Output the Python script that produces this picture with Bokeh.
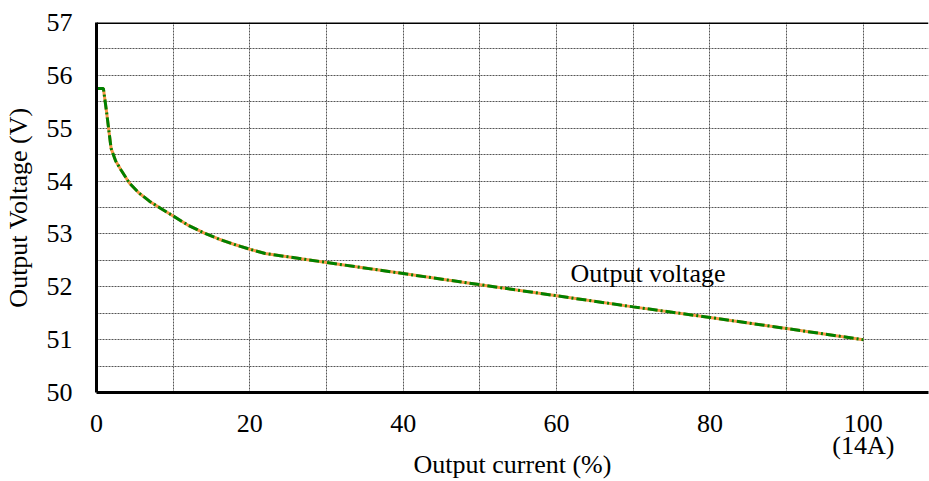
from bokeh.plotting import figure
from bokeh.models import Range1d, FixedTicker, Span, Label, ColumnDataSource
from bokeh.embed import file_html
from bokeh.resources import INLINE

# Data
current_pct = [0, 0.9, 1.3, 1.9, 2.5, 3.2, 4.3, 5.5, 6.9, 8.5, 10, 12, 14, 16, 18, 20, 22,
               30, 40, 50, 60, 70, 80, 90, 100]
voltage = [55.75, 55.75, 55.32, 54.62, 54.38, 54.21, 53.96, 53.78, 53.62, 53.47, 53.34,
           53.16, 53.02, 52.90, 52.80, 52.71, 52.63, 52.46, 52.25, 52.04, 51.83, 51.62,
           51.42, 51.21, 51.00]

x_ticks = [0, 20, 40, 60, 80, 100]
x_tick_labels = {100: "100\n(14A)"}
y_ticks = [50, 51, 52, 53, 54, 55, 56, 57]
x_grid = [10, 20, 30, 40, 50, 60, 70, 80, 90, 100]
y_grid = [50.5, 51, 51.5, 52, 52.5, 53, 53.5, 54, 54.5, 55, 55.5, 56, 56.5]
x_title = "Output current (%)"
y_title = "Output Voltage (V)"
series_name = "Output voltage"

FONT = "Liberation Serif"

src = ColumnDataSource(dict(x=current_pct, y=voltage))

p = figure(width=929, height=481, output_backend="svg", toolbar_location=None,
           x_range=Range1d(0, 108.5), y_range=Range1d(50, 57),
           min_border_left=96, min_border_right=1, min_border_top=22, min_border_bottom=88)
p.outline_line_color = None
p.background_fill_color = "white"
p.border_fill_color = "white"

# grid
p.xgrid.ticker = FixedTicker(ticks=x_grid)
p.ygrid.ticker = FixedTicker(ticks=y_grid)
for g in (p.xgrid, p.ygrid):
    g.grid_line_color = "#555555"
    g.grid_line_dash = "2 1"
    g.grid_line_width = 1

# axes
p.xaxis.ticker = FixedTicker(ticks=x_ticks)
p.xaxis.major_label_overrides = x_tick_labels
p.yaxis.ticker = FixedTicker(ticks=y_ticks)
for ax in (p.xaxis, p.yaxis):
    ax.axis_line_width = 3
    ax.axis_line_color = "black"
    ax.major_tick_out = 0
    ax.major_tick_in = 0
    ax.minor_tick_out = 0
    ax.minor_tick_in = 0
    ax.major_label_text_font = FONT
    ax.major_label_text_font_size = "26px"
    ax.major_label_text_color = "black"
    ax.axis_label_text_font = FONT
    ax.axis_label_text_font_size = "26px"
    ax.axis_label_text_font_style = "normal"
    ax.axis_label_text_color = "black"
p.xaxis.major_label_standoff = 16
p.xaxis.major_label_text_line_height = 0.76
p.yaxis.major_label_standoff = 24
p.xaxis.axis_label = x_title
p.xaxis.axis_label_standoff = -13
p.yaxis.axis_label = y_title
p.yaxis.axis_label_standoff = 11

# top frame line
p.add_layout(Span(location=57, dimension="width", line_color="black", line_width=3))

# curve: orange solid under green dash-dot
p.line("x", "y", source=src, line_color="#F79646", line_width=3)
p.line("x", "y", source=src, line_color="#008000", line_width=3, line_dash="10 3 2 3")

p.add_layout(Label(x=61.8, y=52.25, text=series_name, text_font=FONT,
                   text_font_size="26px", text_color="black", text_baseline="alphabetic"))

open("out.html", "w").write(file_html(p, INLINE))
